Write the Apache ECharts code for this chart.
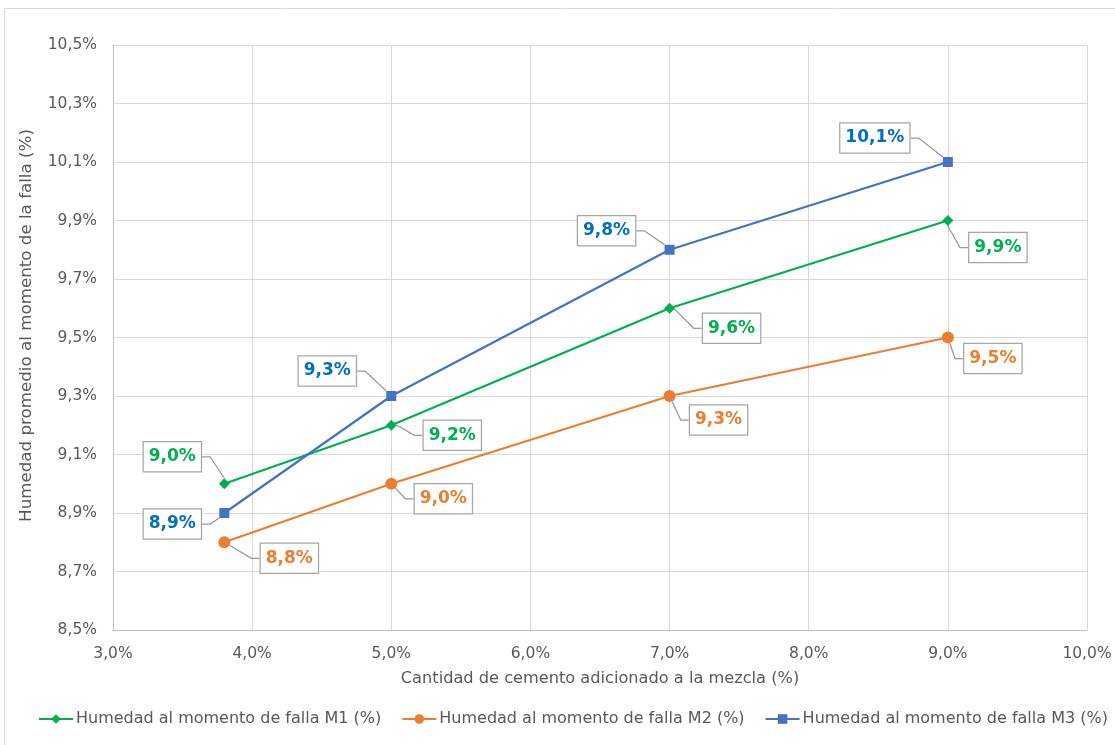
<!DOCTYPE html>
<html>
<head>
<meta charset="utf-8">
<style>
  html, body { margin: 0; padding: 0; background: #fff; }
  #chart { width: 1115px; height: 745px; }
</style>
<script src="https://cdn.jsdelivr.net/npm/echarts@6/dist/echarts.min.js"></script>
</head>
<body>
<div id="chart"></div>
<script>
// Cement content added to the mix (%)
const cementPct = [3.8, 5.0, 7.0, 9.0];
// Average moisture at failure (%) for each mix series
const humedadM1 = [9.0, 9.2, 9.6, 9.9];
const humedadM2 = [8.8, 9.0, 9.3, 9.5];
const humedadM3 = [8.9, 9.3, 9.8, 10.1];
const seriesNames = [
  'Humedad al momento de falla M1 (%)',
  'Humedad al momento de falla M2 (%)',
  'Humedad al momento de falla M3 (%)'
];
const xAxisTitle = 'Cantidad de cemento adicionado a la mezcla (%)';
const yAxisTitle = 'Humedad promedio al momento de la falla (%)';

// Callout offsets (px) from each point to its label box centre
const calloutOffsets = [
  [[-52, -27], [61, 10], [62, 20], [50, 27]],
  [[65, 16], [52, 15], [49, 24], [45, 21]],
  [[-52, 11], [-64, -25], [-63, -19], [-73, -24]]
];

const FONT = 'DejaVu Sans';
const TEXT = '#595959';
const fmt = v => v.toFixed(1).replace('.', ',') + '%';

function pairs(ys) { return cementPct.map((x, i) => [x, ys[i]]); }

function makeSeries(idx, values, color, labelColor, symbol, size) {
  return {
    name: seriesNames[idx],
    type: 'line',
    data: pairs(values),
    symbol: symbol,
    symbolSize: size,
    lineStyle: { color: color, width: 2.25 },
    itemStyle: { color: color },
    z: 3 + idx,
    label: {
      show: true,
      position: 'inside',
      align: 'center',
      verticalAlign: 'middle',
      formatter: p => fmt(p.value[1]),
      fontFamily: FONT,
      fontSize: 17,
      fontWeight: 'bold',
      lineHeight: 20,
      color: labelColor,
      backgroundColor: '#fff',
      borderColor: '#a6a6a6',
      borderWidth: 1.25,
      padding: [5, 5, 4, 5]
    },
    labelLine: {
      show: true,
      length2: 8,
      minTurnAngle: 0,
      lineStyle: { color: '#999999', width: 1.25 }
    },
    labelLayout: p => ({
      dx: calloutOffsets[idx][p.dataIndex][0],
      dy: calloutOffsets[idx][p.dataIndex][1],
      hideOverlap: false
    }),
    emphasis: { disabled: true }
  };
}

const chart = echarts.init(document.getElementById('chart'), null, { renderer: 'canvas' });
chart.setOption({
  animation: false,
  backgroundColor: '#fff',
  textStyle: { fontFamily: FONT, color: TEXT },
  graphic: [{
    type: 'rect',
    shape: { x: 4.5, y: 8.5, width: 1120, height: 760 },
    style: { fill: 'none', stroke: '#d9d9d9', lineWidth: 1 },
    silent: true, z: -1
  }],
  grid: { left: 113, right: 28, top: 45, bottom: 115, containLabel: false },
  xAxis: {
    type: 'value',
    min: 3, max: 10, interval: 1,
    name: xAxisTitle,
    nameLocation: 'middle',
    nameGap: 41,
    nameTextStyle: { fontFamily: FONT, fontSize: 16.2, color: TEXT },
    axisLine: { show: true, lineStyle: { color: '#bfbfbf', width: 1 } },
    axisTick: { show: false },
    axisLabel: { formatter: fmt, fontFamily: FONT, fontSize: 15.5, color: TEXT, margin: 16 },
    splitLine: { show: true, lineStyle: { color: '#d9d9d9', width: 1 } }
  },
  yAxis: {
    type: 'value',
    min: 8.5, max: 10.5, interval: 0.2,
    name: yAxisTitle,
    nameLocation: 'middle',
    nameGap: 78,
    nameTextStyle: { fontFamily: FONT, fontSize: 16.7, color: TEXT, padding: [0, 0, 0, 24] },
    axisLine: { show: true, lineStyle: { color: '#bfbfbf', width: 1 } },
    axisTick: { show: false },
    axisLabel: { formatter: fmt, fontFamily: FONT, fontSize: 15.5, color: TEXT, margin: 16 },
    splitLine: { show: true, lineStyle: { color: '#d9d9d9', width: 1 } }
  },
  legend: {
    top: 711,
    left: 38,
    width: 1077,
    padding: 0,
    itemWidth: 34,
    itemHeight: 12,
    itemGap: 20,
    textStyle: { fontFamily: FONT, fontSize: 16, color: TEXT, padding: [0, 0, 0, -2] },
    data: seriesNames
  },
  series: [
    makeSeries(0, humedadM1, '#00b050', '#00b050', 'diamond', 11),
    makeSeries(1, humedadM2, '#ed7d31', '#ed7d31', 'circle', 12),
    makeSeries(2, humedadM3, '#4472c4', '#0070c0', 'rect', 10)
  ]
});
</script>
</body>
</html>
